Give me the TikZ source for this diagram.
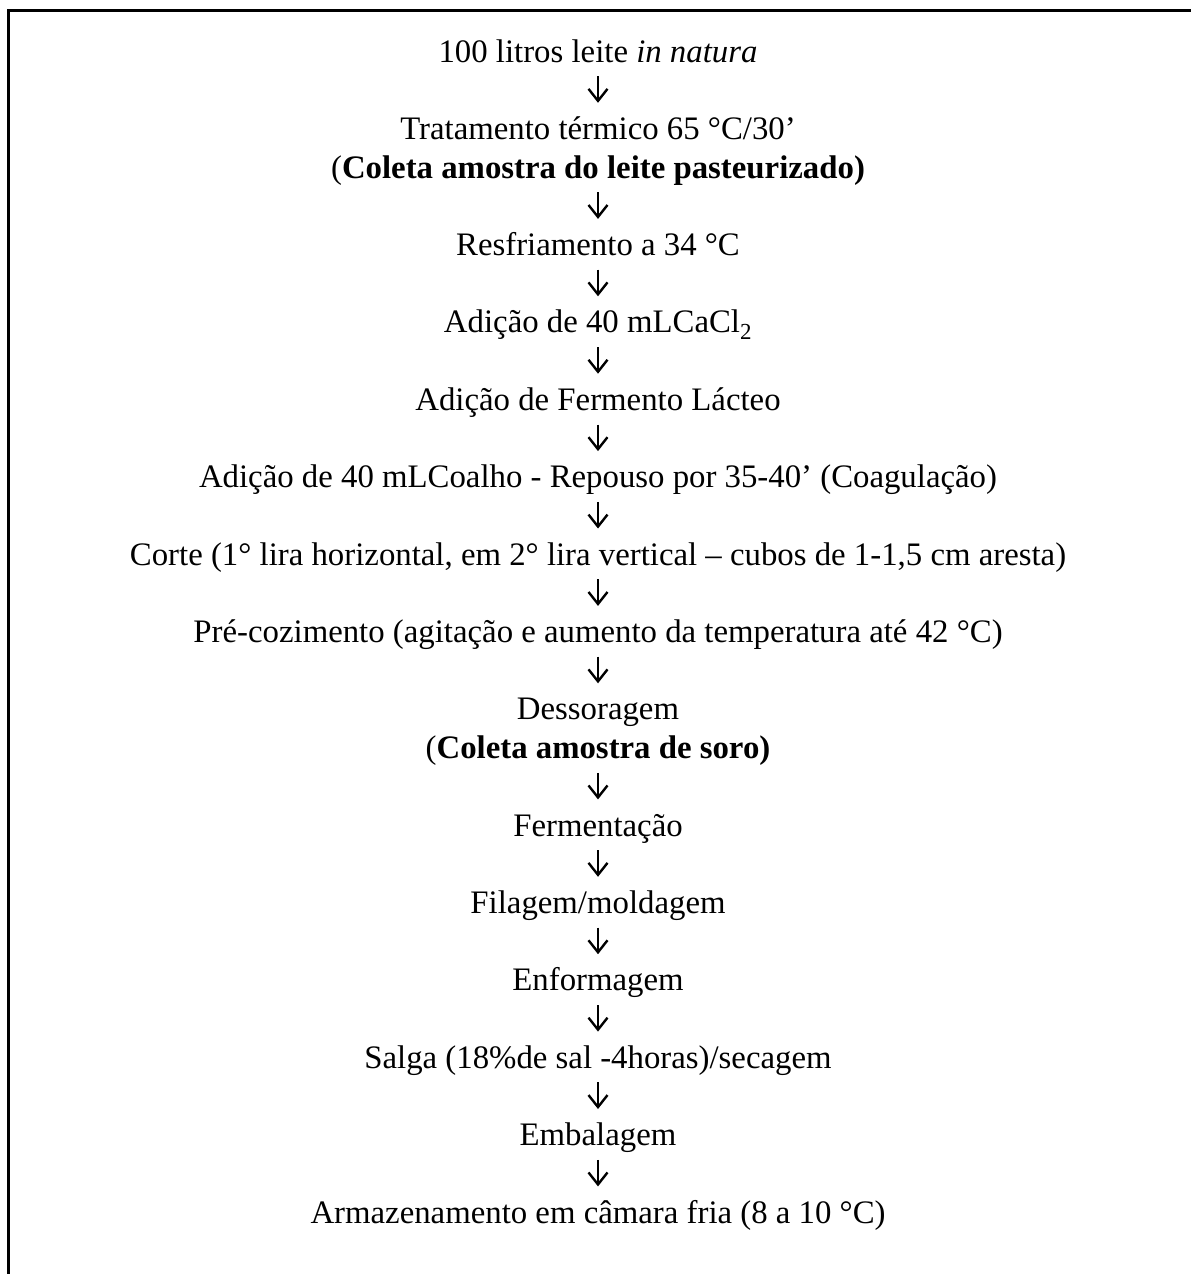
\documentclass[tikz,border=0pt]{standalone}
\usepackage{fontspec}
\setmainfont{Liberation Serif}
\usetikzlibrary{arrows.meta}
\begin{document}
\begin{tikzpicture}[x=1pt,y=-1pt,
  stage/.style={anchor=base, inner sep=0pt, text height=24pt, text depth=8pt, font=\fontsize{32.8}{38.7}\selectfont},
  flow/.style={line width=2.4pt, -{Straight Barb[length=12pt,width=19pt]}, shorten <=6pt, shorten >=12.4pt},
  frame/.style={line width=3pt}]
\useasboundingbox (0,0) rectangle (1191,1274);
\draw[frame] (8,1274) -- (8,10) -- (1191,10);
\node[stage] (n0)  at (598,62)     {100 litros leite \textit{in natura}};
\node[stage] (n2)  at (598,139.4)  {Tratamento térmico 65 °C/30’};
\node[stage] (n3)  at (598,178.1)  {(\textbf{Coleta amostra do leite pasteurizado)}};
\node[stage] (n5)  at (598,255.5)  {Resfriamento a 34 °C};
\node[stage] (n7)  at (598,332.9)  {Adição de 40 mLCaCl\textsubscript{2}};
\node[stage] (n9)  at (598,410.3)  {Adição de Fermento Lácteo};
\node[stage] (n11) at (598,487.7)  {Adição de 40 mLCoalho - Repouso por 35-40’ (Coagulação)};
\node[stage] (n13) at (598,565.1)  {Corte (1° lira horizontal, em 2° lira vertical – cubos de 1-1,5 cm aresta)};
\node[stage] (n15) at (598,642.5)  {Pré-cozimento (agitação e aumento da temperatura até 42 °C)};
\node[stage] (n17) at (598,719.9)  {Dessoragem};
\node[stage] (n18) at (598,758.6)  {(\textbf{Coleta amostra de soro)}};
\node[stage] (n20) at (598,836)    {Fermentação};
\node[stage] (n22) at (598,913.4)  {Filagem/moldagem};
\node[stage] (n24) at (598,990.8)  {Enformagem};
\node[stage] (n26) at (598,1068.2) {Salga (18\%de sal -4horas)/secagem};
\node[stage] (n28) at (598,1145.6) {Embalagem};
\node[stage] (n30) at (598,1223)   {Armazenamento em câmara fria (8 a 10 °C)};
\draw[flow] (n0) -- (n2);
\draw[flow] (n3) -- (n5);
\draw[flow] (n5) -- (n7);
\draw[flow] (n7) -- (n9);
\draw[flow] (n9) -- (n11);
\draw[flow] (n11) -- (n13);
\draw[flow] (n13) -- (n15);
\draw[flow] (n15) -- (n17);
\draw[flow] (n18) -- (n20);
\draw[flow] (n20) -- (n22);
\draw[flow] (n22) -- (n24);
\draw[flow] (n24) -- (n26);
\draw[flow] (n26) -- (n28);
\draw[flow] (n28) -- (n30);
\end{tikzpicture}
\end{document}
